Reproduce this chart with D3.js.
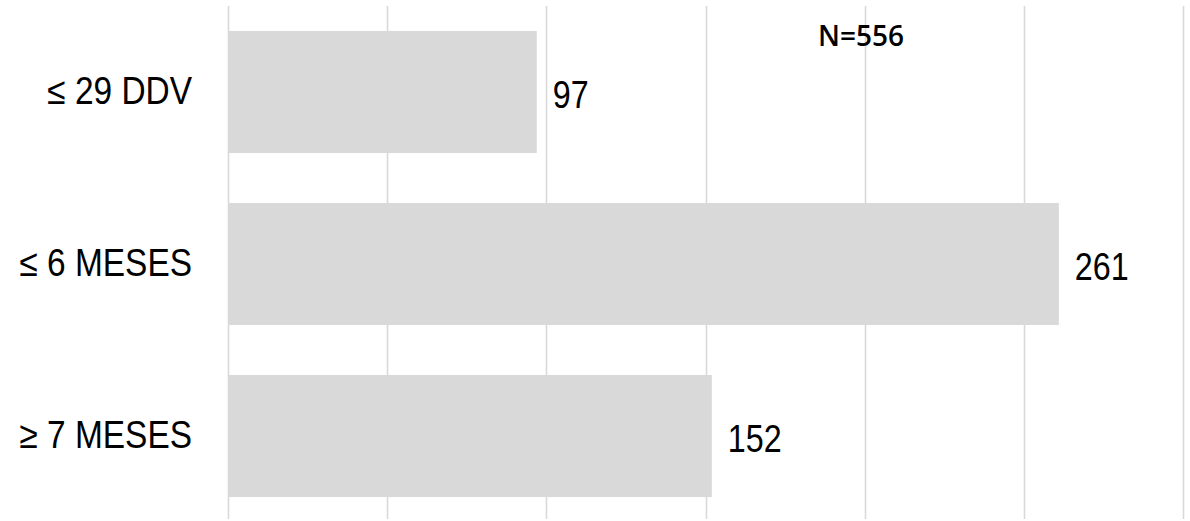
<!DOCTYPE html>
<html>
<head>
<meta charset="utf-8">
<script src="https://cdn.jsdelivr.net/npm/d3@7"></script>
<style>
  body { margin: 0; background: #fff; }
  .lbl { font-family: "Liberation Sans Narrow", "Arial Narrow", "Liberation Sans", Arial, sans-serif; fill: #000; }
</style>
</head>
<body>
<div id="chart"></div>
<script>
// Chart data.
var categories = ["≤ 29 DDV", "≤ 6 MESES", "≥ 7 MESES"];
var values = [97, 261, 152];
var xTicks = [0, 50, 100, 150, 200, 250, 300];
var note = "N=556";

var width = 1190, height = 521;
var narrowCat = 0.88; // Fake narrow face, no condensed font installed.
var narrowVal = 0.85;

var svg = d3.select("#chart").append("svg")
    .attr("width", width)
    .attr("height", height);

var x = d3.scaleLinear()
    .domain([0, 300])
    .range([228, 1183]);

var y = d3.scaleBand()
    .domain(categories)
    .range([6, 522])
    .paddingInner(50 / 172)
    .paddingOuter(0.145);

// Vertical gridlines.
svg.append("g")
    .selectAll("line")
    .data(xTicks)
    .enter()
    .append("line")
    .attr("x1", d => Math.round(x(d)) + 0.5)
    .attr("x2", d => Math.round(x(d)) + 0.5)
    .attr("y1", 6)
    .attr("y2", 519)
    .attr("stroke", "#d9d9d9")
    .attr("stroke-width", 1.6);

// Bars.
var data = categories.map((c, i) => ({ cat: c, value: values[i] }));

svg.append("g")
    .selectAll("rect")
    .data(data)
    .enter()
    .append("rect")
    .attr("x", x(0))
    .attr("y", d => y(d.cat))
    .attr("width", d => x(d.value) - x(0))
    .attr("height", y.bandwidth())
    .attr("fill", "#d9d9d9");

// Category labels.
svg.append("g")
    .selectAll("text")
    .data(data)
    .enter()
    .append("text")
    .attr("class", "lbl")
    .attr("transform", d => "translate(192," + (y(d.cat) + y.bandwidth() / 2 - 1.5) + ") scale(" + narrowCat + ",1)")
    .attr("dy", "0.35em")
    .attr("text-anchor", "end")
    .style("font-size", "38px")
    .text(d => d.cat);

// Value labels.
svg.append("g")
    .selectAll("text")
    .data(data)
    .enter()
    .append("text")
    .attr("class", "lbl")
    .attr("transform", d => "translate(" + (x(d.value) + 16) + "," + (y(d.cat) + y.bandwidth() / 2 + 3) + ") scale(" + narrowVal + ",1)")
    .attr("dy", "0.35em")
    .style("font-size", "38px")
    .text(d => d.value);

// Sample size note.
svg.append("text")
    .attr("x", 861)
    .attr("y", 46)
    .attr("text-anchor", "middle")
    .style("font-family", "'Open Sans', sans-serif")
    .style("font-weight", 600)
    .style("font-size", "28px")
    .style("fill", "#000")
    .text(note);
</script>
</body>
</html>
